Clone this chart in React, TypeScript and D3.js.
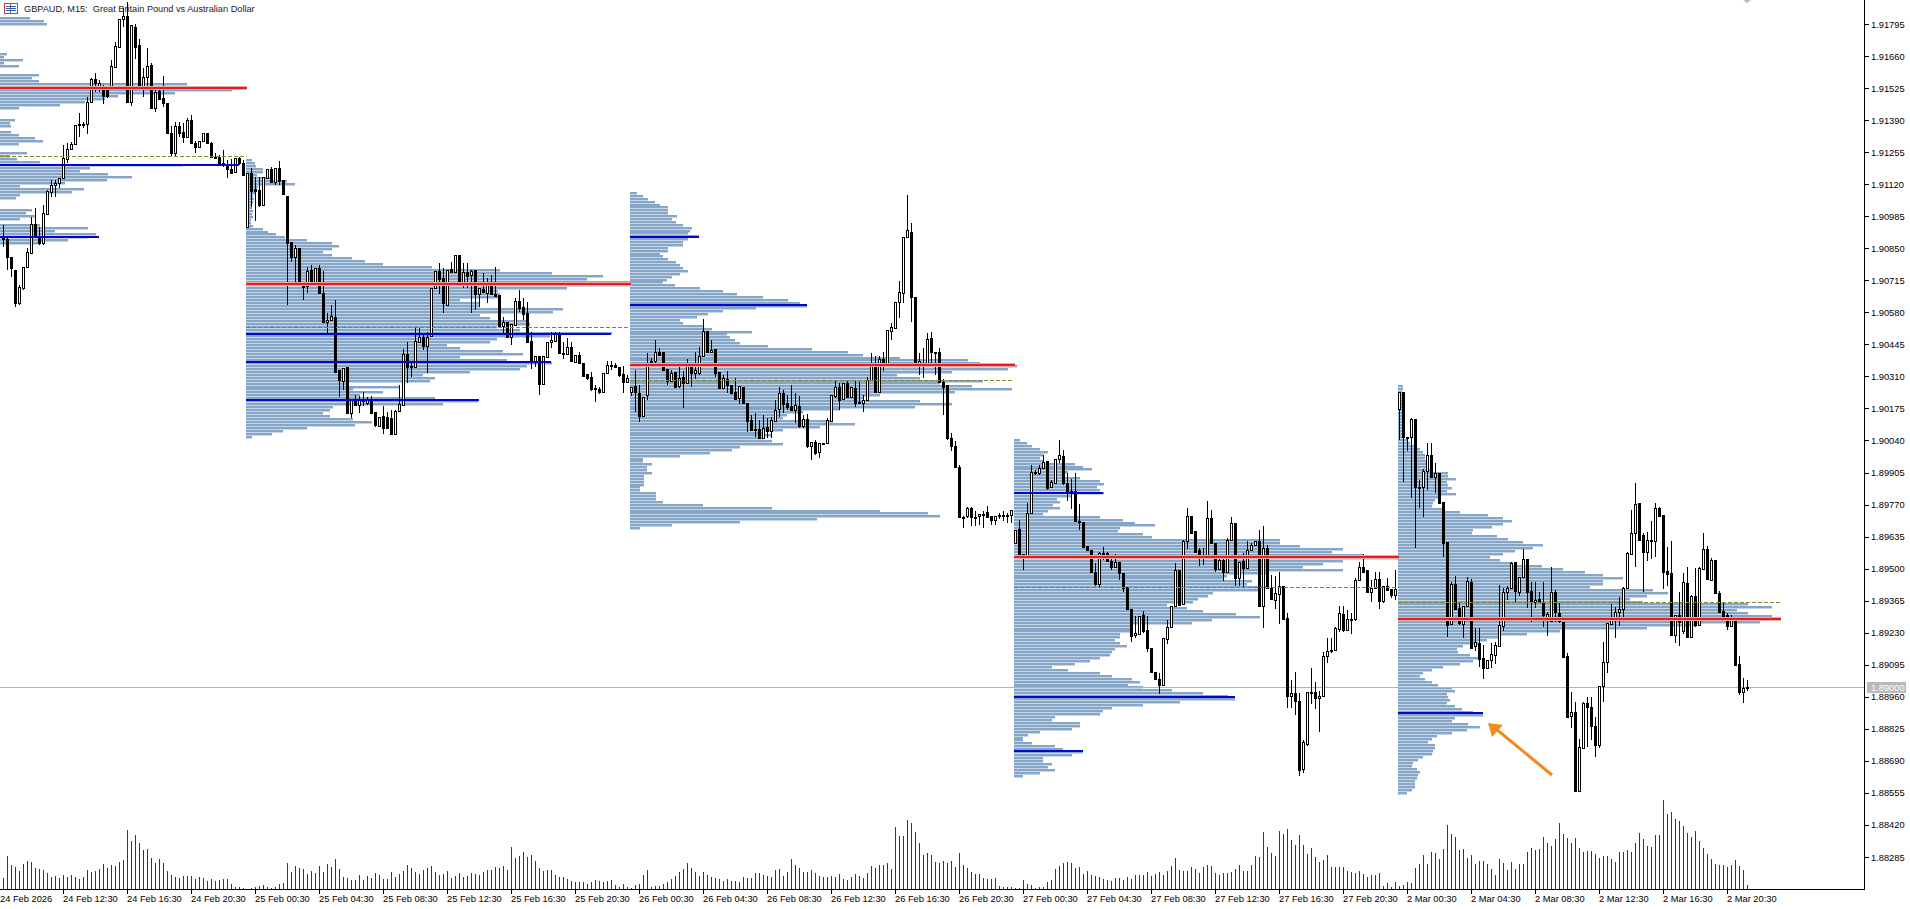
import React from "react";
import * as d3 from "d3";

// All prices are in points above 1.88000 (1 point = 0.00001). Rows: [open, high, low, close]
const PRICE_BASE = 1.88;
const bars24Feb: number[][] = [
[2902,2948,2857,2888],[2888,2896,2759,2812],[2812,2812,2730,2766],[2759,2759,2604,2618],[2618,2695,2611,2688],[2681,2773,2674,2773],[2773,2850,2773,2836],[2829,2983,2829,2952],[2952,3018,2892,2899],[2896,2941,2864,2871],
[2871,3032,2864,2997],[2994,3096,2994,3093],[3088,3138,3067,3117],[3115,3138,3067,3126],[3124,3145,3103,3145],[3145,3285,3145,3229],[3225,3292,3208,3267],[3267,3299,3267,3289],[3288,3369,3288,3369],[3368,3418,3320,3374],
[3374,3383,3355,3369],[3374,3489,3330,3468],[3468,3566,3468,3563],[3562,3587,3510,3545],[3528,3559,3510,3548],[3528,3540,3456,3493],[3524,3524,3482,3492],[3524,3643,3524,3618],[3615,3720,3608,3702],[3697,3815,3697,3815],
[3815,3861,3781,3829],[3829,3889,3468,3468],[3468,3791,3451,3791],[3781,3795,3646,3699],[3706,3730,3528,3528],[3528,3608,3489,3570],[3573,3692,3524,3618],[3622,3632,3440,3440],[3440,3524,3426,3510],[3514,3534,3478,3478],
[3482,3576,3444,3463],[3461,3461,3331,3337],[3334,3365,3233,3253],[3253,3383,3233,3365],[3365,3383,3320,3337],[3338,3376,3292,3317],[3317,3397,3317,3390],[3390,3412,3292,3292],[3295,3303,3253,3278],[3275,3302,3275,3302],
[3302,3334,3302,3334],[3334,3334,3289,3292],[3292,3299,3229,3236],[3233,3253,3225,3236],[3236,3243,3198,3201],[3205,3264,3194,3211],[3205,3222,3145,3184],[3184,3225,3166,3169],[3170,3229,3170,3229],[3232,3236,3201,3208],
[3211,3222,3159,3159]];
const bars25Feb: number[][] = [
[2938,3169,2938,3169],[3166,3187,3025,3093],[3098,3152,2966,3093],[3095,3152,3022,3032],[3032,3152,3032,3152],[3147,3183,3147,3183],[3184,3194,3128,3131],[3131,3187,3117,3187],[3187,3218,3117,3135],[3138,3138,3077,3077],
[3070,3070,2611,2874],[2878,2878,2794,2812],[2812,2864,2702,2850],[2850,2850,2699,2699],[2702,2702,2632,2688],[2691,2772,2660,2756],[2758,2779,2699,2699],[2699,2767,2699,2767],[2767,2779,2663,2663],[2663,2756,2534,2541],
[2538,2576,2489,2548],[2548,2611,2548,2565],[2559,2632,2330,2330],[2337,2337,2222,2295],[2292,2344,2253,2344],[2348,2348,2155,2155],[2155,2211,2134,2211],[2211,2232,2190,2190],[2190,2228,2155,2214],[2208,2246,2185,2214],
[2197,2225,2190,2211],[2211,2228,2155,2155],[2159,2159,2098,2105],[2101,2141,2101,2141],[2143,2185,2068,2091],[2141,2162,2091,2091],[2134,2169,2063,2068],[2068,2169,2068,2166],[2164,2274,2161,2192],[2190,2424,2190,2405],
[2405,2457,2281,2351],[2351,2365,2309,2354],[2351,2520,2351,2461],[2455,2513,2455,2475],[2475,2494,2421,2438],[2440,2499,2323,2478],[2480,2681,2480,2681],[2681,2754,2681,2754],[2754,2787,2657,2719],[2723,2765,2576,2618],
[2611,2758,2611,2758],[2761,2794,2747,2751],[2751,2822,2751,2822],[2822,2822,2702,2702],[2702,2787,2681,2749],[2751,2787,2681,2733],[2737,2758,2579,2756],[2758,2758,2590,2656],[2656,2681,2604,2681],[2677,2744,2660,2667],
[2663,2723,2618,2702],[2702,2737,2656,2656],[2656,2772,2646,2650],[2653,2653,2523,2523],[2524,2562,2485,2538],[2538,2538,2478,2478],[2478,2531,2442,2531],[2527,2639,2527,2628],[2628,2674,2583,2597],[2604,2639,2548,2573],
[2576,2625,2457,2457],[2459,2499,2340,2372],[2369,2396,2351,2396],[2396,2396,2232,2277],[2277,2396,2277,2396],[2393,2457,2393,2457],[2454,2499,2428,2464],[2461,2499,2461,2492],[2492,2499,2407,2410],[2410,2457,2382,2407],
[2405,2471,2405,2433],[2435,2457,2375,2375],[2372,2400,2372,2400],[2400,2414,2365,2365],[2368,2368,2309,2312],[2320,2320,2295,2303],[2306,2330,2250,2256],[2260,2274,2204,2256],[2257,2264,2236,2243],[2243,2326,2243,2326],
[2326,2376,2326,2358],[2355,2376,2337,2360],[2360,2365,2348,2348],[2348,2348,2309,2316],[2319,2352,2239,2288],[2288,2316,2288,2302]];
const bars26Feb: number[][] = [
[2246,2265,2228,2265],[2270,2338,2158,2246],[2239,2274,2116,2144],[2144,2222,2144,2222],[2232,2408,2211,2368],[2370,2387,2352,2373],[2373,2464,2366,2412],[2412,2429,2401,2401],[2411,2411,2331,2338],[2340,2340,2274,2291],
[2291,2338,2291,2323],[2328,2328,2265,2267],[2270,2359,2260,2302],[2309,2331,2176,2281],[2281,2383,2281,2354],[2359,2359,2265,2326],[2326,2415,2298,2338],[2326,2436,2316,2397],[2394,2551,2394,2502],[2503,2503,2408,2415],
[2415,2464,2411,2422],[2426,2426,2307,2323],[2328,2328,2260,2260],[2260,2316,2260,2302],[2298,2331,2239,2272],[2274,2274,2239,2239],[2246,2302,2211,2214],[2218,2270,2194,2270],[2267,2267,2197,2197],[2200,2200,2074,2124],
[2127,2148,2085,2085],[2088,2155,2054,2085],[2088,2127,2050,2050],[2050,2148,2050,2092],[2095,2134,2050,2082],[2082,2138,2050,2127],[2124,2211,2124,2169],[2173,2265,2138,2239],[2239,2253,2155,2194],[2197,2232,2169,2183],
[2187,2274,2169,2169],[2169,2239,2113,2190],[2186,2228,2092,2102],[2102,2148,2092,2131],[2131,2151,2008,2015],[2015,2033,1956,2033],[2033,2043,1979,1986],[1993,2029,1965,2029],[2029,2031,2024,2029],[2029,2134,2029,2127],
[2124,2232,2124,2232],[2229,2295,2218,2265],[2265,2281,2169,2211],[2215,2281,2215,2281],[2281,2295,2218,2222],[2222,2265,2222,2265],[2260,2295,2183,2200],[2204,2288,2194,2197],[2197,2232,2158,2211],[2211,2309,2211,2295],
[2293,2408,2293,2354],[2354,2394,2246,2246],[2243,2394,2243,2383],[2383,2415,2331,2366],[2366,2506,2366,2506],[2503,2537,2464,2517],[2516,2623,2516,2623],[2623,2710,2555,2665],[2660,2896,2618,2896],[2896,3075,2896,2927],
[2920,2955,2541,2644],[2644,2644,2361,2361],[2359,2408,2316,2373],[2354,2429,2302,2366],[2354,2492,2354,2467],[2471,2496,2359,2415],[2415,2415,2316,2411],[2412,2429,2288,2288],[2288,2300,2148,2267],[2274,2274,2043,2050],
[2050,2071,1994,2015],[2017,2036,1927,1927],[1930,1937,1717,1717],[1717,1720,1670,1714],[1720,1759,1713,1755],[1755,1758,1678,1717],[1717,1741,1678,1713],[1720,1729,1685,1729],[1727,1741,1670,1731],[1738,1762,1713,1717],
[1720,1722,1685,1703],[1703,1722,1685,1722],[1722,1734,1708,1725],[1725,1741,1699,1728],[1725,1734,1692,1728],[1724,1748,1692,1748]];
const bars27Feb: number[][] = [
[1610,1664,1610,1664],[1668,1703,1554,1554],[1561,1561,1495,1549],[1554,1776,1554,1734],[1734,1938,1734,1909],[1907,1916,1895,1909],[1905,1938,1895,1923],[1926,1980,1926,1949],[1952,1952,1832,1839],[1843,1874,1839,1865],
[1860,1963,1860,1963],[1961,2043,1945,1977],[1975,2001,1853,1860],[1860,1902,1787,1821],[1818,1877,1751,1829],[1828,1902,1699,1699],[1699,1773,1661,1696],[1696,1696,1586,1593],[1596,1596,1577,1577],[1577,1577,1481,1484],
[1485,1523,1428,1436],[1436,1572,1418,1565],[1565,1593,1537,1558],[1565,1572,1534,1534],[1533,1544,1495,1505],[1505,1561,1505,1526],[1526,1530,1453,1481],[1481,1481,1400,1418],[1421,1421,1329,1329],[1331,1331,1189,1217],
[1219,1299,1207,1228],[1226,1301,1226,1301],[1303,1320,1228,1238],[1242,1299,1147,1165],[1165,1165,1063,1063],[1064,1064,1032,1036],[1036,1060,971,1011],[1011,1207,1011,1207],[1203,1285,1182,1256],[1254,1344,1254,1344],
[1341,1523,1341,1495],[1495,1495,1348,1348],[1352,1622,1352,1615],[1615,1755,1582,1723],[1723,1723,1652,1652],[1657,1657,1565,1572],[1577,1586,1512,1544],[1544,1586,1516,1551],[1551,1783,1551,1713],[1713,1748,1610,1610],
[1610,1610,1488,1498],[1498,1558,1498,1537],[1537,1558,1446,1488],[1488,1629,1488,1622],[1619,1717,1619,1692],[1692,1692,1425,1460],[1460,1527,1425,1527],[1533,1565,1422,1502],[1502,1615,1502,1579],[1579,1607,1579,1600],
[1598,1615,1598,1615],[1615,1664,1341,1341],[1341,1678,1249,1589],[1589,1600,1418,1418],[1418,1474,1369,1372],[1369,1467,1329,1397],[1394,1488,1268,1428],[1428,1428,1289,1289],[1292,1313,913,962],[962,1032,913,976],
[976,1063,884,941],[943,976,627,653],[655,779,639,768],[762,980,754,980],[980,1081,931,980],[980,1022,908,955],[955,983,810,964],[964,1147,964,1130],[1133,1207,1102,1155],[1155,1207,1144,1158],
[1158,1256,1158,1249],[1247,1341,1235,1313],[1308,1341,1235,1242],[1242,1324,1242,1287],[1285,1313,1226,1289],[1287,1460,1278,1453],[1453,1530,1453,1506],[1509,1563,1481,1488],[1495,1495,1400,1400],[1400,1453,1358,1418],
[1418,1484,1418,1456],[1456,1488,1329,1362],[1362,1428,1355,1428],[1428,1460,1404,1411],[1414,1414,1376,1387],[1390,1495,1366,1414]];
const bars2Mar: number[][] = [
[2173,2246,2042,2246],[2246,2246,1867,2053],[2056,2056,1997,2053],[2053,2136,1796,2131],[2131,2131,1586,1843],[1846,1874,1754,1843],[1846,1919,1716,1913],[1913,2028,1832,1979],[1979,2031,1888,1888],[1888,1944,1818,1902],
[1902,1902,1773,1778],[1780,1780,1548,1607],[1611,1611,1211,1263],[1266,1445,1263,1436],[1436,1469,1329,1329],[1333,1354,1263,1270],[1266,1343,1207,1343],[1343,1466,1343,1448],[1445,1455,1165,1165],[1172,1249,1155,1190],
[1186,1249,1084,1118],[1122,1179,1034,1080],[1080,1115,1080,1115],[1113,1186,1080,1141],[1136,1193,1097,1179],[1176,1431,1176,1263],[1259,1417,1239,1403],[1400,1427,1368,1417],[1417,1530,1417,1525],[1530,1530,1357,1407],
[1403,1466,1385,1464],[1464,1582,1464,1541],[1541,1541,1333,1403],[1406,1445,1277,1361],[1361,1445,1333,1368],[1372,1403,1357,1361],[1358,1445,1253,1305],[1287,1319,1217,1308],[1281,1509,1281,1400],[1403,1410,1277,1316],
[1315,1354,1270,1280],[1277,1277,1122,1129],[1132,1143,874,874],[881,979,828,898],[898,940,561,561],[561,781,561,747],[746,940,746,936],[936,961,750,916],[919,961,778,835],[837,877,705,757],
[757,1007,743,1007],[1007,1193,940,1108],[1108,1270,1059,1270],[1267,1351,1267,1288],[1294,1340,1209,1316],[1316,1382,1259,1329],[1329,1424,1291,1417],[1417,1572,1417,1565],[1562,1747,1562,1649],[1649,1860,1506,1771],
[1775,1775,1621,1621],[1642,1649,1403,1572],[1572,1656,1532,1621],[1618,1702,1539,1621],[1618,1775,1551,1754],[1754,1761,1719,1722],[1726,1726,1413,1488],[1490,1593,1427,1478],[1481,1617,1221,1221],[1221,1305,1188,1305],
[1305,1403,1172,1277],[1239,1480,1225,1443],[1438,1509,1207,1214],[1214,1389,1214,1385],[1385,1502,1256,1263],[1263,1509,1263,1502],[1499,1649,1499,1583],[1583,1597,1457,1457],[1452,1544,1452,1537],[1537,1537,1396,1396],
[1399,1407,1316,1316],[1322,1357,1298,1302],[1305,1312,1242,1260],[1260,1305,1256,1295],[1292,1292,1094,1094],[1099,1132,968,982],[982,1038,936,996],[1000,1031,986,1000]];

const volume24Feb = [32,99,72,66,54,75,84,81,63,60,57,48,37,39,33,42,36,42,36,30,36,57,51,54,60,75,63,72,69,81,87,177,144,162,138,117,120,93,78,90,78,54,42,36,33,39,39,39,30,36,33,24,30,24,27,30,30,15,6,5,3];
const volume25Feb = [1,3,6,9,12,5,3,5,15,18,78,51,69,63,60,45,54,48,69,51,75,66,90,60,36,33,27,27,42,27,39,33,48,42,30,30,51,36,45,54,72,63,51,45,57,63,69,51,42,45,54,33,39,48,36,39,48,45,42,51,57,57,66,63,69,57,126,93,99,111,96,102,84,63,54,57,57,42,36,36,30,24,21,21,21,15,21,27,24,21,24,27,12,6,15,6];
const volume26Feb = [2,12,15,42,57,5,8,9,15,21,30,39,51,60,78,63,51,39,51,42,36,33,30,24,30,24,24,21,36,33,33,48,48,42,39,36,57,60,39,51,90,72,63,51,51,57,48,39,36,36,39,36,45,30,27,36,45,39,33,48,69,63,72,72,78,60,186,159,159,207,198,171,138,102,108,102,81,78,84,78,84,66,108,72,63,51,45,45,33,30,30,33,8,6,6,6];
const volume27Feb = [2,2,27,15,12,3,6,6,21,27,60,69,78,81,78,63,66,45,54,42,39,36,30,27,24,33,33,27,36,30,42,42,42,51,39,45,51,42,54,69,93,57,54,54,66,60,48,66,72,69,48,42,48,48,51,60,72,54,54,72,99,96,171,126,108,99,174,165,180,147,132,162,132,105,123,96,81,87,102,66,66,66,66,54,51,48,54,45,36,42,42,48,9,18,6,21];
const volume2Mar = [9,12,21,18,63,75,102,75,111,108,90,120,192,165,156,117,120,93,102,75,84,84,75,60,42,90,78,57,81,60,75,75,111,123,117,120,156,138,129,150,198,165,153,138,153,123,111,114,114,105,93,99,99,90,81,111,111,117,111,138,168,150,129,126,162,162,267,225,231,210,204,189,168,156,174,144,123,105,90,75,72,72,66,72,87,69,57,12];

// Volume-profile row lengths, top to bottom, one list per session
const profile24Feb = [30,44,47,0,0,0,0,0,0,0,0,0,7,4,23,4,19,0,0,39,32,39,187,190,232,175,118,105,85,60,19,0,0,0,15,10,11,0,11,19,35,43,19,0,0,27,10,17,40,183,90,80,108,132,107,65,20,84,72,20,16,0,0,0,32,26,35,20,0,40,88,55,96,88,68,40];
const profile25Feb = [6,9,10,17,17,11,27,41,49,12,10,9,7,8,7,6,6,7,6,7,5,5,7,17,22,30,39,61,86,93,86,77,86,106,119,137,186,254,306,357,341,384,386,321,252,254,254,214,234,234,317,307,234,244,281,284,251,274,366,304,251,244,201,214,257,277,214,261,306,281,274,224,177,189,184,101,154,107,137,114,189,232,197,87,84,77,84,107,126,109,61,37,26,6];
const profile26Feb = [7,13,18,25,30,38,38,38,47,42,46,53,62,60,58,69,58,53,53,38,38,30,33,38,46,50,53,58,50,42,37,33,45,70,93,107,133,158,170,177,126,93,78,67,50,53,73,82,122,97,100,105,110,138,182,218,233,270,338,350,387,378,322,267,290,353,310,342,382,325,250,233,290,322,285,210,173,157,153,203,225,190,153,133,142,133,142,153,110,102,80,50,13,13,22,17,17,22,14,14,14,14,10,10,26,26,26,33,73,142,250,298,310,187,110,42,10];
const profile27Feb = [6,13,18,26,34,29,26,29,61,69,78,54,49,66,86,90,83,86,90,58,43,46,39,46,34,29,86,109,121,141,106,104,129,138,266,266,286,329,318,349,384,329,309,289,329,253,213,209,238,233,253,246,199,194,184,179,153,173,189,222,246,198,178,119,119,118,106,106,101,106,113,101,98,96,86,76,61,38,54,86,98,118,126,114,129,158,189,214,221,166,129,98,89,86,41,38,66,66,58,26,14,9,9,18,41,49,69,58,29,29,38,34,41,26,9];
const profile2Mar = [5,5,4,4,4,4,4,4,4,4,4,4,4,4,4,5,5,5,9,12,17,22,25,27,27,29,30,30,35,50,50,58,49,50,54,49,58,42,37,35,34,45,62,90,105,114,105,94,75,74,99,110,125,145,135,117,105,92,102,115,144,165,187,205,225,205,205,192,255,270,249,232,245,350,374,339,350,374,382,362,299,249,162,129,102,89,80,65,59,60,72,80,75,62,45,34,25,22,27,34,40,54,57,49,50,52,49,57,64,75,85,57,54,70,82,69,54,39,34,30,37,37,35,34,25,20,15,14,19,22,20,19,17,17,17,14,9];

// first bar of the session, top/bottom row price, POC, value-level and average prices, end bar of each level
const sessionStarts = [-1, 61, 157, 253, 349];
const profileTops = [3820, 3222, 3083, 2042, 2269];
const profileBottoms = [2872, 2054, 1672, 627, 555];
const pocPrices = [3527, 2698, 2358, 1550, 1288];
const pocEnds = [61, 157, 253, 349, 444.5];
const avgPrices = [3237, 2518, 2291, 1419, 1359];
const avgEnds = [61, 156.5, 252.5, 349, 444.5];
const hvnPrices = [[3201, 59], [2896, 24], [2488, 152], [2370, 137], [2211, 119], [2898, 174], [2611, 201], [1819, 275], [960, 308], [732, 270], [892, 370]];

const yTickPrices = [1.91795,1.9166,1.91525,1.9139,1.91255,1.9112,1.90985,1.9085,1.90715,1.9058,1.90445,1.9031,1.90175,1.9004,1.89905,1.8977,1.89635,1.895,1.89365,1.8923,1.89095,1.8896,1.88825,1.8869,1.88555,1.8842,1.88285];
const timeLabels = ["24 Feb 12:30","24 Feb 16:30","24 Feb 20:30","25 Feb 00:30","25 Feb 04:30","25 Feb 08:30","25 Feb 12:30","25 Feb 16:30","25 Feb 20:30","26 Feb 00:30","26 Feb 04:30","26 Feb 08:30","26 Feb 12:30","26 Feb 16:30","26 Feb 20:30","27 Feb 00:30","27 Feb 04:30","27 Feb 08:30","27 Feb 12:30","27 Feb 16:30","27 Feb 20:30","2 Mar 00:30","2 Mar 04:30","2 Mar 08:30","2 Mar 12:30","2 Mar 16:30","2 Mar 20:30"];
const LAST_PRICE = 1.89;

const W = 1910, H = 909, AXIS_X = 1864, AXIS_Y = 889;
const FONT = "'Liberation Sans', Arial, sans-serif";

export default function App() {
  const x = d3.scaleLinear().domain([0, 1]).range([3, 7]);
  const y = d3.scaleLinear().domain([1.91795, 1.88285]).range([24, 857]);
  const yPts = (p: number) => y(PRICE_BASE + p / 1e5);
  const vol = d3.scaleLinear().domain([0, 300]).range([AXIS_Y, AXIS_Y - 100]);
  const len = d3.scaleLinear().domain([0, 400]).range([0, 400]);

  const bars = [...bars24Feb, ...bars25Feb, ...bars26Feb, ...bars27Feb, ...bars2Mar];
  const volumes = [...volume24Feb, ...volume25Feb, ...volume26Feb, ...volume27Feb, ...volume2Mar];
  const profiles = [profile24Feb, profile25Feb, profile26Feb, profile27Feb, profile2Mar];

  const sessionX = (s: number) => (s === 0 ? 0 : x(sessionStarts[s]) - 1);

  return (
    <svg width={W} height={H} viewBox={`0 0 ${W} ${H}`} style={{ position: "fixed", left: 0, top: 0, background: "#fff" }} shapeRendering="crispEdges">
      {/* profiles */}
      {profiles.map((rows, s) => {
        const rowY = d3.scaleLinear().domain([0, rows.length - 1]).range([yPts(profileTops[s]), yPts(profileBottoms[s])]);
        return (
          <g key={s}>
            {rows.map((v, r) => v > 0 && (
              <g key={r}>
                <rect x={sessionX(s)} y={Math.round(rowY(r)) - 1} width={len(v)} height={3} fill="#c6d6e6" />
                <rect x={sessionX(s)} y={Math.round(rowY(r)) - 1} width={len(v)} height={2} fill="#86a6c8" />
              </g>
            ))}
          </g>
        );
      })}
      {/* last-price line */}
      <line x1={0} x2={AXIS_X} y1={Math.round(y(LAST_PRICE)) + 0.5} y2={Math.round(y(LAST_PRICE)) + 0.5} stroke="#b4b4b4" strokeWidth={1} />
      {/* candles */}
      {bars.map(([o, h, l, c], i) => {
        const cx = x(i);
        const up = c >= o;
        const top = Math.round(yPts(Math.max(o, c)));
        const bot = Math.round(yPts(Math.min(o, c)));
        return (
          <g key={i}>
            <line x1={cx + 0.5} x2={cx + 0.5} y1={yPts(h)} y2={yPts(l)} stroke="#000" strokeWidth={1} />
            <rect x={cx - 0.5} y={top + 0.5} width={2} height={Math.max(bot - top, 0.5)} fill={up ? "#fff" : "#000"} stroke="#000" strokeWidth={1} />
          </g>
        );
      })}
      {/* session levels */}
      {hvnPrices.map(([p, end], k) => {
        const s = k < 2 ? 0 : k < 5 ? 1 : k < 7 ? 2 : k < 10 ? 3 : 4;
        return <line key={k} x1={sessionX(s)} x2={x(end)} y1={yPts(p)} y2={yPts(p)} stroke="#0505cc" strokeWidth={2} />;
      })}
      {pocPrices.map((p, s) => (
        <g key={s}>
          <line x1={sessionX(s)} x2={x(pocEnds[s])} y1={yPts(p)} y2={yPts(p)} stroke="#e8a9a9" strokeWidth={4} />
          <line x1={sessionX(s)} x2={x(pocEnds[s])} y1={yPts(p)} y2={yPts(p)} stroke="#e61e1e" strokeWidth={2} />
        </g>
      ))}
      {avgPrices.map((p, s) => (
        <line key={s} x1={sessionX(s)} x2={x(avgEnds[s])} y1={yPts(p)} y2={yPts(p)} stroke="#87872a" strokeWidth={1} strokeDasharray="4 2" />
      ))}
      {/* volumes */}
      {volumes.map((v, i) => (
        <line key={i} x1={x(i) + 0.5} x2={x(i) + 0.5} y1={AXIS_Y} y2={vol(v)} stroke="#005a0a" strokeWidth={1} />
      ))}
      {/* annotation arrow */}
      <g shapeRendering="auto">
        <line x1={1552} y1={775} x2={1496} y2={729} stroke="#f28a1c" strokeWidth={3} />
        <path d="M1488,723 L1503,725 L1492,737 Z" fill="#f28a1c" />
        <path d="M1743,0 L1751,0 L1747,3 Z" fill="#bbb" />
      </g>
      {/* axes */}
      <line x1={0} x2={AXIS_X + 0.5} y1={AXIS_Y + 0.5} y2={AXIS_Y + 0.5} stroke="#000" />
      <line x1={AXIS_X + 0.5} x2={AXIS_X + 0.5} y1={0} y2={AXIS_Y} stroke="#000" />
      {yTickPrices.map((p) => (
        <g key={p}>
          <line x1={AXIS_X} x2={AXIS_X + 5} y1={Math.round(y(p)) + 0.5} y2={Math.round(y(p)) + 0.5} stroke="#000" />
          <text x={1871} y={y(p) + 3.5} fontFamily={FONT} fontSize={9.3} fill="#000">{p.toFixed(5)}</text>
        </g>
      ))}
      <rect x={1867} y={Math.round(y(LAST_PRICE)) - 5} width={39} height={11} fill="#b9b9b9" />
      <text x={1871} y={y(LAST_PRICE) + 3.5} fontFamily={FONT} fontSize={9.3} fill="#fff">{LAST_PRICE.toFixed(5)}</text>
      <text x={0} y={902} fontFamily={FONT} fontSize={9.3} fill="#000">24 Feb 2026</text>
      {timeLabels.map((t, k) => {
        const tx = x(15 + 16 * k);
        return (
          <g key={t}>
            <line x1={tx + 0.5} x2={tx + 0.5} y1={AXIS_Y} y2={AXIS_Y + 5} stroke="#000" />
            <text x={tx} y={902} fontFamily={FONT} fontSize={9.3} fill="#000">{t}</text>
          </g>
        );
      })}
      {/* title */}
      <g>
        <rect x={4.5} y={3.5} width={13} height={10} fill="#fff" stroke="#c8402e" />
        <line x1={10.5} x2={10.5} y1={4} y2={13} stroke="#c8402e" />
        <line x1={6} x2={16} y1={6.5} y2={6.5} stroke="#2a5db0" />
        <line x1={6} x2={16} y1={8.5} y2={8.5} stroke="#2a5db0" />
        <line x1={6} x2={16} y1={10.5} y2={10.5} stroke="#2a5db0" />
      </g>
      <text x={24} y={12} fontFamily={FONT} fontSize={9.2} fill="#222" xmlSpace="preserve">GBPAUD, M15:  Great Britain Pound vs Australian Dollar</text>
    </svg>
  );
}
